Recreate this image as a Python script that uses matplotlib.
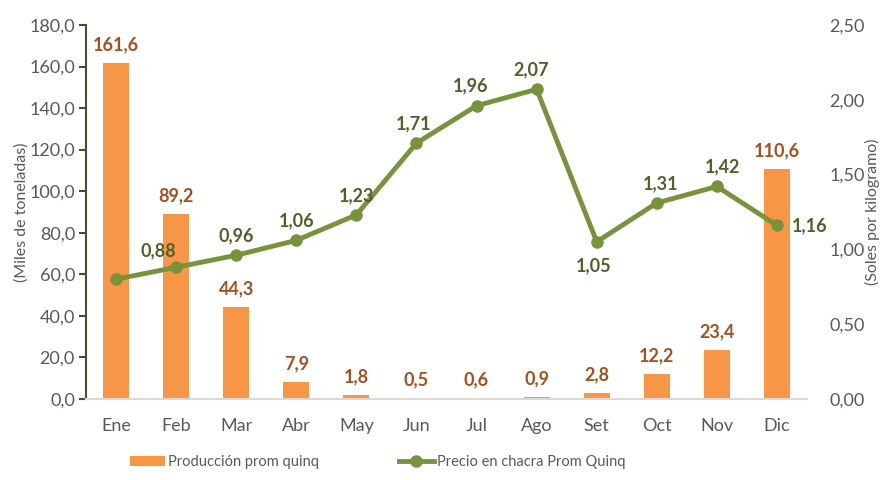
import numpy as np
import matplotlib.pyplot as plt

plt.rcParams['font.family'] = ['Lato', 'DejaVu Sans']

months = ['Ene', 'Feb', 'Mar', 'Abr', 'May', 'Jun', 'Jul', 'Ago', 'Set', 'Oct', 'Nov', 'Dic']
produccion = [161.6, 89.2, 44.3, 7.9, 1.8, 0.5, 0.6, 0.9, 2.8, 12.2, 23.4, 110.6]
precio = [0.80, 0.88, 0.96, 1.06, 1.23, 1.71, 1.96, 2.07, 1.05, 1.31, 1.42, 1.16]

bar_col = '#F79646'
line_col = '#77933C'
bar_txt = '#A5501E'
line_txt = '#4F6228'
grey = '#595959'

x = np.arange(len(months))
fig = plt.figure(figsize=(8.82, 4.8), dpi=100)
ax = fig.add_axes([0.0975, 0.169, 0.8175, 0.779])
ax2 = ax.twinx()

ax.bar(x, produccion, width=0.43, color=bar_col, label='Producción prom quinq', zorder=2)
for xi, v in zip(x, produccion):
    ax.annotate(f'{v:.1f}'.replace('.', ','), (xi, v), xytext=(0, 7), textcoords='offset points',
                ha='center', va='bottom', color=bar_txt, fontsize=13, fontweight='bold')

ax2.plot(x, precio, color=line_col, lw=3.5, marker='o', ms=8, label='Precio en chacra Prom Quinq', zorder=3)
# label offsets per point (Ene has no label in the original)
offs = [None, (-13, 6), (0, 8), (0, 8), (0, 8), (-2, 8), (-4, 8), (-4, 8), (-2, -11), (3, 8), (4, 8), (11, 0)]
for xi, v, o in zip(x, precio, offs):
    if o is None:
        continue
    va = 'bottom' if o[1] > 0 else ('top' if o[1] < 0 else 'center')
    ha = 'left' if o[0] > 8 else 'center'
    ax2.annotate(f'{v:.2f}'.replace('.', ','), (xi, v), xytext=o, textcoords='offset points',
                 ha=ha, va=va, color=line_txt, fontsize=13, fontweight='bold')

ax.set_xlim(-0.5, 11.5)
ax.set_ylim(0, 180)
ax2.set_ylim(0, 2.5)
ax.set_yticks(np.arange(0, 181, 20))
ax.set_yticklabels([f'{v:.1f}'.replace('.', ',') for v in np.arange(0, 181, 20)])
ax2.set_yticks(np.arange(0, 2.51, 0.5))
ax2.set_yticklabels([f'{v:.2f}'.replace('.', ',') for v in np.arange(0, 2.51, 0.5)])
ax.set_xticks(x)
ax.set_xticklabels(months)

for a in (ax, ax2):
    for s in ('top', 'right', 'left', 'bottom'):
        a.spines[s].set_visible(False)
ax.spines['left'].set_visible(True)
ax.spines['left'].set_color('#4B4B32')
ax.spines['left'].set_linewidth(1.5)
ax.spines['bottom'].set_visible(True)
ax.spines['bottom'].set_color('#D9D9D9')
ax.spines['bottom'].set_linewidth(1.5)

ax.tick_params(axis='y', colors='#4B4B32', length=5, width=1.5, labelsize=13, labelcolor=grey, pad=3)
ax.tick_params(axis='x', length=0, labelsize=13, labelcolor=grey, pad=14)
ax2.tick_params(axis='y', length=0, labelsize=13, labelcolor=grey, pad=16)

ax.set_ylabel('(Miles de toneladas)', fontsize=11.5, color=grey, labelpad=0)
ax2.set_ylabel('(Soles por kilogramo)', fontsize=11.5, color=grey, labelpad=0)

h1, l1 = ax.get_legend_handles_labels()
h2, l2 = ax2.get_legend_handles_labels()
fig.legend(h1 + h2, l1 + l2, loc='lower center', bbox_to_anchor=(0.428, -0.005), ncol=2,
           frameon=False, fontsize=10.5, labelcolor=grey, columnspacing=5.5, handlelength=2.4,
           handletextpad=0.2)

fig.savefig('out.png', dpi=100)
